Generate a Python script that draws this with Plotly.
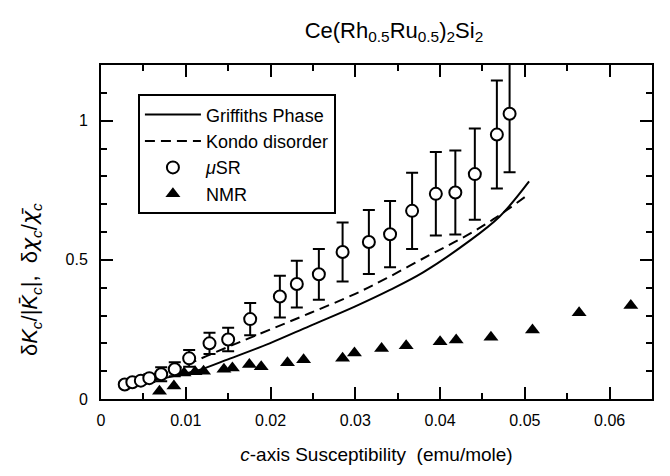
import plotly.graph_objects as go

# ---- data ----
x_griffiths = [0.0030, 0.0050, 0.0075, 0.0100, 0.0116, 0.0152, 0.0199, 0.0246, 0.0300, 0.0341, 0.0380, 0.0431, 0.0470, 0.0505]
y_griffiths = [0.050, 0.060, 0.075, 0.092, 0.104, 0.145, 0.200, 0.262, 0.333, 0.392, 0.455, 0.560, 0.655, 0.782]

x_kondo = [0.0030, 0.0050, 0.0075, 0.0100, 0.0125, 0.0160, 0.0200, 0.0246, 0.0300, 0.0337, 0.0388, 0.0427, 0.0463, 0.0502]
y_kondo = [0.050, 0.068, 0.095, 0.122, 0.155, 0.200, 0.250, 0.308, 0.378, 0.434, 0.518, 0.580, 0.646, 0.730]

x_musr = [0.0028, 0.0037, 0.0047, 0.0057, 0.0071, 0.0087, 0.0104, 0.0128, 0.0150, 0.0176, 0.0211, 0.0231,
          0.0257, 0.0285, 0.0316, 0.0341, 0.0367, 0.0395, 0.0418, 0.0441, 0.0467, 0.0482]
y_musr = [0.052, 0.060, 0.066, 0.075, 0.089, 0.107, 0.146, 0.200, 0.214, 0.287, 0.368, 0.413,
          0.448, 0.528, 0.564, 0.592, 0.676, 0.737, 0.742, 0.808, 0.950, 1.025]
err_musr = [0.010, 0.010, 0.012, 0.014, 0.025, 0.025, 0.030, 0.038, 0.042, 0.058, 0.075, 0.084,
            0.091, 0.106, 0.115, 0.119, 0.137, 0.150, 0.151, 0.164, 0.194, 0.210]

x_nmr = [0.0069, 0.0086, 0.0098, 0.0111, 0.0121, 0.0145, 0.0155, 0.0175, 0.0189, 0.0220, 0.0239,
         0.0285, 0.0299, 0.0331, 0.0360, 0.0400, 0.0419, 0.0460, 0.0509, 0.0564, 0.0625]
y_nmr = [0.028, 0.047, 0.093, 0.098, 0.100, 0.107, 0.111, 0.124, 0.116, 0.130, 0.141,
         0.146, 0.165, 0.181, 0.191, 0.206, 0.212, 0.222, 0.248, 0.310, 0.336]

x_tickvals = [0, 0.01, 0.02, 0.03, 0.04, 0.05, 0.06]
x_ticktext = ["0", "0.01", "0.02", "0.03", "0.04", "0.05", "0.06"]
y_tickvals = [0, 0.5, 1]
y_ticktext = ["0", "0.5", "1"]

FONT = "Arial, Liberation Sans, Helvetica, sans-serif"
CHI = '<span style="font-family:DejaVu Sans">χ</span>'

fig = go.Figure()
fig.add_trace(go.Scatter(x=x_griffiths, y=y_griffiths, mode="lines", name="Griffiths Phase",
                         line=dict(color="black", width=2, shape="spline")))
fig.add_trace(go.Scatter(x=x_kondo, y=y_kondo, mode="lines", name="Kondo disorder",
                         line=dict(color="black", width=2, dash="10px,6px", shape="spline")))
fig.add_trace(go.Scatter(x=x_musr, y=y_musr, mode="markers", name="<i>μ</i>SR",
                         marker=dict(symbol="circle", size=12, color="white",
                                     line=dict(color="black", width=2)),
                         error_y=dict(type="data", array=err_musr, color="black",
                                      thickness=2, width=6)))
fig.add_trace(go.Scatter(x=x_nmr, y=y_nmr, mode="markers", name="NMR",
                         marker=dict(symbol="triangle-up", size=13, color="black")))

# page body has an 8px margin, so the figure is sized/offset to compensate
fig.update_layout(
    width=662, height=468,
    margin=dict(l=93, r=18, t=57, b=77),
    paper_bgcolor="white", plot_bgcolor="white",
    font=dict(family=FONT, size=16, color="black"),
    title=dict(text="Ce(Rh<sub>0.5</sub>Ru<sub>0.5</sub>)<sub>2</sub>Si<sub>2</sub>",
               x=0.583, xanchor="center", y=0.953, yanchor="middle",
               font=dict(size=22, family=FONT)),
    showlegend=True,
    legend=dict(x=0.067, y=0.912, xanchor="left", yanchor="top",
                bgcolor="white", bordercolor="black", borderwidth=2,
                font=dict(size=18, family=FONT), tracegroupgap=0, itemwidth=56),
    xaxis=dict(range=[0, 0.065], tickvals=x_tickvals, ticktext=x_ticktext,
               showgrid=False, zeroline=False, showline=True, linecolor="black",
               linewidth=2, mirror="ticks", ticks="inside", ticklen=12, tickwidth=2,
               tickcolor="black", tickfont=dict(size=16), ticklabelstandoff=6,
               minor=dict(dtick=0.005, tick0=0, ticks="inside", ticklen=6, tickwidth=2,
                          tickcolor="black", showgrid=False),
               title=dict(text="<i>c</i>-axis Susceptibility  (emu/mole)",
                          font=dict(size=19), standoff=19)),
    yaxis=dict(range=[0, 1.2], tickvals=y_tickvals, ticktext=y_ticktext,
               showgrid=False, zeroline=False, showline=True, linecolor="black",
               linewidth=2, mirror="ticks", ticks="inside", ticklen=12, tickwidth=2,
               tickcolor="black", tickfont=dict(size=16), ticklabelstandoff=8,
               minor=dict(dtick=0.1, tick0=0, ticks="inside", ticklen=6, tickwidth=2,
                          tickcolor="black", showgrid=False)),
    annotations=[dict(
        text=("δ<i>K</i><sub><i>c</i></sub>/|<i>K\u0304</i><sub><i>c</i></sub>|,  δ<i>" + CHI +
              "</i><sub><i>c</i></sub>/<i>" + CHI + "\u0304</i><sub><i>c</i></sub>"),
        textangle=-90, xref="paper", yref="paper", x=0, xshift=-70, y=0.356,
        xanchor="center", yanchor="middle", showarrow=False,
        font=dict(size=22, family=FONT))],
)

fig.write_html("out.html")
